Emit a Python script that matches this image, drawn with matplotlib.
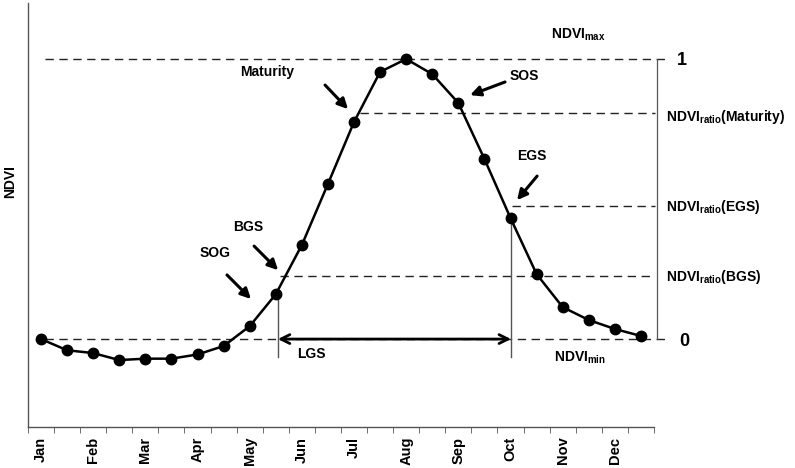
import numpy as np
import matplotlib
matplotlib.use("Agg")
import matplotlib.pyplot as plt

plt.rcParams['font.family'] = ['Liberation Sans', 'DejaVu Sans']
plt.rcParams['font.weight'] = 'bold'
plt.rcParams['mathtext.fontset'] = 'custom'
plt.rcParams['mathtext.rm'] = 'Liberation Sans:bold'
plt.rcParams['mathtext.bf'] = 'Liberation Sans:bold'

# semi-monthly NDVI profile (24 periods)
months = ["Jan", "Feb", "Mar", "Apr", "May", "Jun",
          "Jul", "Aug", "Sep", "Oct", "Nov", "Dec"]
ndvi = [0.0, -0.04, -0.05, -0.075, -0.07, -0.07, -0.055, -0.025,
        0.046, 0.16, 0.336, 0.554, 0.775, 0.954, 1.0, 0.946,
        0.843, 0.643, 0.432, 0.232, 0.114, 0.068, 0.036, 0.011]
ratio_maturity = 0.807
ratio_egs = 0.475
ratio_bgs = 0.225
bgs_idx = 9
egs_idx = 18

x = np.arange(len(ndvi)) + 0.5

fig = plt.figure(figsize=(7.95, 4.68), dpi=100)
ax = fig.add_axes([0.0352, 0.0876, 0.7874, 0.906])

ax.plot(x, ndvi, '-', color='black', lw=1.8, marker='o', ms=7.5, zorder=3)

ax.set_xlim(0, 24)
ax.set_ylim(-0.314, 1.2)
for sp in ['top', 'right']:
    ax.spines[sp].set_visible(False)
for sp in ['left', 'bottom']:
    ax.spines[sp].set_color('#555555')
    ax.spines[sp].set_linewidth(1.0)

ax.set_yticks([])
ax.set_xticks(np.arange(0, 25), minor=True)
ax.set_xticks(np.arange(len(months)) * 2 + 0.5)
ax.set_xticklabels(months, rotation=90, fontsize=10.5, fontweight='bold')
ax.tick_params(axis='x', which='major', length=0, pad=7)
ax.tick_params(axis='x', which='minor', length=4, color='#555555')
ax.set_ylabel("NDVI", fontsize=10, fontweight='bold')
ax.yaxis.set_label_coords(-0.017, 0.578)

dash = dict(color='#222222', lw=1.0, ls=(0, (6, 4)), clip_on=False)
ax.plot([0.65, 24.5], [max(ndvi), max(ndvi)], **dash)
ax.plot([0.65, 24.5], [0, 0], **dash)
ax.plot([12.73, 24.04], [ratio_maturity, ratio_maturity], **dash)
ax.plot([x[egs_idx] + 0.06, 24.04], [ratio_egs, ratio_egs], **dash)
ax.plot([9.66, 24.04], [ratio_bgs, ratio_bgs], **dash)

# vertical markers
ax.plot([24.12, 24.12], [0, max(ndvi)], color='#555555', lw=0.9, clip_on=False)
ax.plot([x[bgs_idx] + 0.08] * 2, [ndvi[bgs_idx], -0.064], color='#555555', lw=1.0)
ax.plot([x[egs_idx] + 0.02] * 2, [ndvi[egs_idx], -0.064], color='#555555', lw=1.0)

# LGS double arrow
ax.annotate("", xy=(x[bgs_idx] + 0.08, 0), xytext=(x[egs_idx] + 0.02, 0),
            arrowprops=dict(arrowstyle='<->', color='black', lw=2.0,
                            mutation_scale=16, shrinkA=0, shrinkB=0))
ax.text(10.85, -0.054, "LGS", fontsize=10, ha='center', va='center')

arrow = dict(arrowstyle='-|>', color='black', lw=2.2, mutation_scale=15,
             shrinkA=0, shrinkB=0)
ax.annotate("", xy=(8.55, 0.143), xytext=(7.63, 0.229), arrowprops=arrow)
ax.text(7.17, 0.307, "SOG", fontsize=10, ha='center', va='center')
ax.annotate("", xy=(9.59, 0.246), xytext=(8.67, 0.332), arrowprops=arrow)
ax.text(8.44, 0.40, "BGS", fontsize=10, ha='center', va='center')
ax.annotate("", xy=(12.27, 0.821), xytext=(11.39, 0.907), arrowprops=arrow)
ax.text(9.16, 0.954, "Maturity", fontsize=10, ha='center', va='center')
ax.annotate("", xy=(16.95, 0.871), xytext=(18.29, 0.918), arrowprops=arrow)
ax.text(19.02, 0.939, "SOS", fontsize=10, ha='center', va='center')
ax.annotate("", xy=(18.75, 0.496), xytext=(19.52, 0.582), arrowprops=arrow)
ax.text(19.33, 0.654, "EGS", fontsize=10, ha='center', va='center')

ax.text(21.09, 1.086, r"NDVI$_{\rm max}$", fontsize=10, ha='center', va='center')
ax.text(21.17, -0.068, r"NDVI$_{\rm min}$", fontsize=10, ha='center', va='center')
ax.text(25.08, 0.995, "1", fontsize=13, ha='center', va='center', clip_on=False)
ax.text(25.18, -0.01, "0", fontsize=13, ha='center', va='center', clip_on=False)
ax.text(24.45, ratio_maturity - 0.015, r"NDVI$_{\rm ratio}$(Maturity$\mathbf{)}$",
        fontsize=10, ha='left', va='center', clip_on=False)
ax.text(24.45, ratio_egs - 0.005, r"NDVI$_{\rm ratio}$(EGS)", fontsize=10,
        ha='left', va='center', clip_on=False)
ax.text(24.45, ratio_bgs - 0.005, r"NDVI$_{\rm ratio}$(BGS)", fontsize=10,
        ha='left', va='center', clip_on=False)

fig.savefig("out.png", dpi=100)
